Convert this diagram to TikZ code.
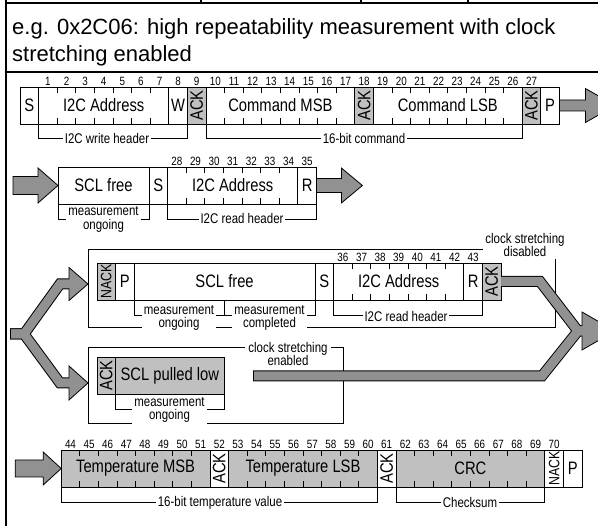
\documentclass[tikz,border=0pt]{standalone}
\usepackage{fontspec}
\setmainfont{Liberation Sans}
\newfontfamily\narrowfam[FakeStretch=0.82]{Liberation Sans}
\usetikzlibrary{calc}
\definecolor{boxgray}{RGB}{192,192,192}
\definecolor{arrgray}{RGB}{145,145,145}
\newcommand\cellfnt{\narrowfam\fontsize{18}{20}\selectfont}
\newcommand\numfnt{\narrowfam\fontsize{12}{12}\selectfont}
\newcommand\brfnt{\narrowfam\fontsize{14}{13.5}\selectfont}
\newcommand\nackfnt{\narrowfam\fontsize{15}{16}\selectfont}
\newcommand\ttlfnt{\fontsize{22}{27}\selectfont}
\tikzset{
  cell/.style={draw=black, line width=0.8pt, inner sep=0pt, outer sep=0pt, anchor=north west, minimum height=37pt, font=\cellfnt},
  gcell/.style={cell, fill=boxgray},
  num/.style={font=\numfnt, inner sep=0pt},
  brk/.style={line width=0.8pt},
  brlabel/.style={font=\brfnt, fill=white, inner sep=2pt, align=center},
  tick/.style={line width=0.8pt},
  frameline/.style={line width=2pt},
  grp/.style={line width=0.8pt},
  grpbox/.style={inner sep=0pt, outer sep=0pt, anchor=north west},
  bigarrow/.style={fill=arrgray, draw=black, line width=0.8pt, line join=miter},
  shaftout/.style={line width=11pt, draw=black, line join=miter},
  shaftin/.style={line width=9pt, draw=arrgray, line join=miter},
}
\begin{document}
\begin{tikzpicture}[x=1pt,y=-1pt]
\useasboundingbox (0,0) rectangle (598,526);
\clip (0,0) rectangle (598,526);
\fill[white] (0,0) rectangle (598,526);

% frame of the table
\draw[frameline] (6,0) -- (6,526);
\draw[frameline] (5,3) -- (598,3);
\foreach \x in {201,361,468} \draw[line width=1.5pt] (\x,0) -- (\x,3);
\draw[frameline] (5,72) -- (598,72);

% title
\node[anchor=base west, font=\ttlfnt, inner sep=0pt] (title1) at (12,34.5) {e.g. 0x2C06: high repeatability measurement with clock};
\node[anchor=base west, font=\ttlfnt, inner sep=0pt] (title2) at (12,62) {stretching enabled};

% group rectangles
\node[grpbox, minimum width=467pt, minimum height=78pt] (grp3) at (88,249) {};
\node[font=\brfnt, align=center, inner sep=2pt] (cs3) at (525,245) {clock stretching\\disabled};
\draw[grp] (cs3.west |- grp3.north) -| (grp3.south west) -| (grp3.east |- cs3.south);
\node[grpbox, minimum width=255pt, minimum height=76pt] (grp4) at (88,347) {};
\node[font=\brfnt, align=center, inner sep=3pt] (cs4) at (288,354) {clock stretching\\enabled};
\draw[grp] (cs4.west |- grp4.north) -| (grp4.south west) -| (grp4.north east) -- (cs4.east |- grp4.north);

% ---------- Row 1
\node[cell, minimum width=18.6pt] (s1) at (20,87) {S};
\node[cell, minimum width=130.2pt] (addr1) at (38.6,87) {I2C Address};
\node[cell, minimum width=18.6pt] (w8) at (168.8,87) {W};
\node[gcell, minimum width=18.6pt] (ack9) at (187.4,87) {\rotatebox{90}{ACK}};
\node[cell, minimum width=148.8pt] (cmsb) at (206,87) {Command MSB};
\node[gcell, minimum width=18.6pt] (ack18) at (354.8,87) {\rotatebox{90}{ACK}};
\node[cell, minimum width=148.8pt] (clsb) at (373.4,87) {Command LSB};
\node[gcell, minimum width=18.6pt] (ack27) at (522.2,87) {\rotatebox{90}{ACK}};
\node[cell, minimum width=18.6pt] (p27) at (540.8,87) {P};
\foreach \n in {1,...,27} \node[num] (n\n) at ({38.6+(\n-0.5)*18.6},81.5) {\n};
\draw[bigarrow] ($(p27.east)+(0,-5.5)$) -- ++(26,0) -- ++(0,-11.5) -- ++(30,17) -- ++(-30,17) -- ++(0,-11.5) -- ++(-26,0) -- cycle;
\draw[brk] (addr1.south west) -- ++(0,14) -| (ack9.south west);
\node[brlabel] (lwh) at (107,138.5) {I2C write header};
\draw[brk] (cmsb.south west) -- ++(0,14) -| (ack27.south west);
\node[brlabel] (lcmd) at (364,138.5) {16-bit command};

% ---------- Row 2
\node[cell, minimum width=91pt] (scl2) at (58,167) {SCL free};
\node[cell, minimum width=18.6pt] (s2) at (149,167) {S};
\node[cell, minimum width=130.2pt] (addr2) at (167.6,167) {I2C Address};
\node[cell, minimum width=18.6pt] (r35) at (297.8,167) {R};
\foreach \n in {28,...,35} \node[num] (n\n) at ({167.6+(\n-27.5)*18.6},161.5) {\n};
\draw[bigarrow] (scl2.west) -- ++(-20,-17.5) -- ++(0,8.5) -- ++(-25,0) -- ++(0,18) -- ++(25,0) -- ++(0,8.5) -- cycle;
\draw[bigarrow] ($(r35.east)+(0,-7)$) -- ++(25,0) -- ++(0,-10.5) -- ++(21,17.5) -- ++(-21,17.5) -- ++(0,-10.5) -- ++(-25,0) -- cycle;
\draw[brk] (scl2.south west) -- ++(0,15) -| (scl2.south east);
\node[brlabel] (lmo2) at (103.5,219.5) {measurement\\ongoing};
\draw[brk] (addr2.south west) -- ++(0,15) -| (r35.south east);
\node[brlabel] (lrh2) at (242,218.5) {I2C read header};

% ---------- Row 3
\node[gcell, minimum width=18.6pt, font=\nackfnt] (nack3) at (97,263) {\rotatebox{90}{NACK}};
\node[cell, minimum width=18.6pt] (p3) at (115.6,263) {P};
\node[cell, minimum width=180.8pt] (scl3) at (134.2,263) {SCL free};
\node[cell, minimum width=18.6pt] (s3) at (315,263) {S};
\node[cell, minimum width=130.2pt] (addr3) at (333.6,263) {I2C Address};
\node[cell, minimum width=18.6pt] (r43) at (463.8,263) {R};
\node[gcell, minimum width=18.6pt] (ackr3) at (482.4,263) {\rotatebox{90}{ACK}};
\foreach \n in {36,...,43} \node[num] (n\n) at ({333.6+(\n-35.5)*18.6},257.5) {\n};
\draw[brk] (scl3.south west) -- ++(0,15) -| (scl3.south east);
\draw[brk] (scl3.south) -- ++(0,15);
\node[brlabel] (lmo3) at (179,318) {measurement\\ongoing};
\node[brlabel] (lmc3) at (269.5,318) {measurement\\completed};
\draw[brk] (addr3.south west) -- ++(0,15) -| (ackr3.south west);
\node[brlabel] (lrh3) at (406,316.5) {I2C read header};

% ---------- Row 4
\node[gcell, minimum width=18.6pt] (ack4) at (97,357) {\rotatebox{90}{ACK}};
\node[gcell, minimum width=108.4pt] (sclp) at (115.6,357) {SCL pulled low};
\draw[brk] (sclp.south west) -- ++(0,15) -| (sclp.south east);
\node[brlabel] (lmo4) at (169.5,410) {measurement\\ongoing};

% ---------- split arrow (left)
\coordinate (ysplit) at (10,334);
\coordinate (uptip) at ($(grp3.west)+(0,-4)$);
\coordinate (lotip) at ($(grp4.west)+(0,-2)$);
\draw[shaftout] (ysplit) -- ++(14,0) -- ($(uptip)+(-28,0)$) -- ($(uptip)+(-19,0)$);
\draw[shaftout] (ysplit) -- ++(14,0) -- ($(lotip)+(-28,0)$) -- ($(lotip)+(-19,0)$);
\draw[bigarrow] (uptip) -- ++(-19,-16.5) -- ++(0,33) -- cycle;
\draw[bigarrow] (lotip) -- ++(-19,-17) -- ++(0,34) -- cycle;
\draw[shaftin] ($(ysplit)+(1,0)$) -- ++(13,0) -- ($(uptip)+(-28,0)$) -- ($(uptip)+(-18,0)$);
\draw[shaftin] ($(ysplit)+(1,0)$) -- ++(13,0) -- ($(lotip)+(-28,0)$) -- ($(lotip)+(-18,0)$);

% ---------- merge arrow (right)
\coordinate (merge) at (578,331);
\coordinate (bandstart) at (253,376);
\draw[shaftout] (ackr3.east) -- ++(39,0) -- (merge) -- ++(5,0);
\draw[shaftout] (bandstart) -- (542,376) -- (merge) -- ++(5,0);
\draw[bigarrow] ($(merge)+(4,-19)$) -- ++(33,19) -- ++(-33,19) -- cycle;
\draw[shaftin] (ackr3.east) -- ++(39,0) -- (merge) -- ++(5,0);
\draw[shaftin] ($(bandstart)+(1,0)$) -- (542,376) -- (merge) -- ++(5,0);

% ---------- Row 5
\node[gcell, minimum width=148.8pt] (tmsb) at (61.2,450) {Temperature MSB};
\node[cell, minimum width=18.6pt] (ack52) at (210,450) {\rotatebox{90}{ACK}};
\node[gcell, minimum width=148.8pt] (tlsb) at (228.6,450) {Temperature LSB};
\node[cell, minimum width=18.6pt] (ack61) at (377.4,450) {\rotatebox{90}{ACK}};
\node[gcell, minimum width=148.8pt] (crc) at (396,450) {CRC};
\node[cell, minimum width=18.6pt, font=\nackfnt] (nack70) at (544.8,450) {\rotatebox{90}{NACK}};
\node[cell, minimum width=18.6pt] (p5) at (563.4,450) {P};
\foreach \n in {44,...,70} \node[num] (n\n) at ({61.2+(\n-43.5)*18.6},444.5) {\n};
\draw[bigarrow] (tmsb.west) -- ++(-18,-16.5) -- ++(0,8) -- ++(-28,0) -- ++(0,17) -- ++(28,0) -- ++(0,8) -- cycle;
\draw[brk] (tmsb.south west) -- ++(0,15) -| (tlsb.south east);
\node[brlabel] (ltv) at (220,502.5) {16-bit temperature value};
\draw[brk] (crc.south west) -- ++(0,15) -| (crc.south east);
\node[brlabel] (lcs) at (470,502.5) {Checksum};

% ---------- bit ticks
\foreach \nd/\k in {addr1/6, cmsb/7, clsb/7, addr2/6, addr3/6, tmsb/7, tlsb/7, crc/7} {
  \foreach \i in {1,...,\k} {
    \draw[tick] ($(\nd.north west)+(\i*18.6,0)$) -- ++(0,6);
    \draw[tick] ($(\nd.south west)+(\i*18.6,0)$) -- ++(0,-6);
  }
}
\end{tikzpicture}
\end{document}
